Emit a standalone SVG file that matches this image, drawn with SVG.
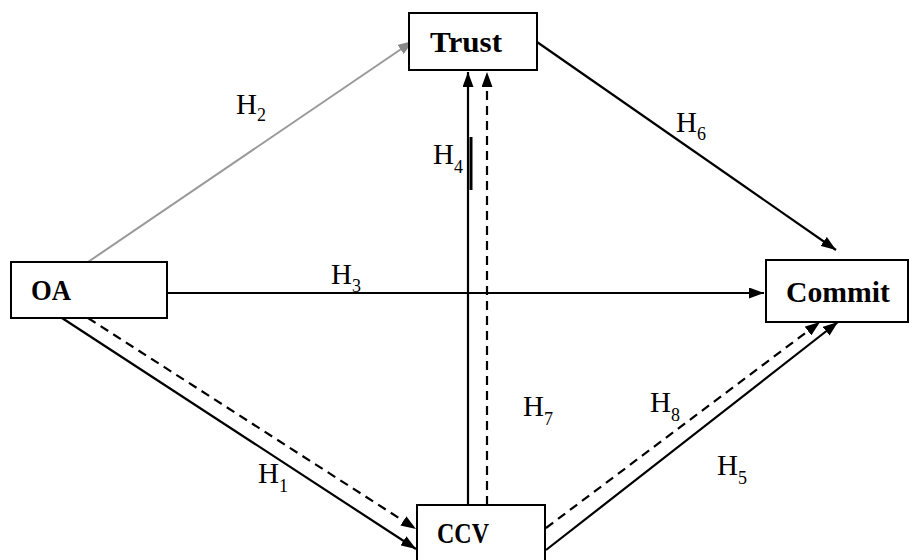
<svg xmlns="http://www.w3.org/2000/svg" width="912" height="560" viewBox="0 0 912 560">
<style>
.box{fill:#fff;stroke:#000;stroke-width:2}
.lbl{font-family:"Liberation Serif",serif;font-weight:bold;font-size:30px;fill:#000}
.h{font-family:"Liberation Serif",serif;font-size:29px;fill:#000}
.sub{font-size:18px}
.c{stroke:#000;stroke-width:2.2;fill:none}
.d{stroke-dasharray:9 6}
</style>
<defs>
<marker id="ah" viewBox="0 0 15 11" refX="15" refY="5.5" markerWidth="15" markerHeight="11" markerUnits="userSpaceOnUse" orient="auto"><path d="M0,0 L15,5.5 L0,11 z" fill="#000"/></marker>
<marker id="ahg" viewBox="0 0 15 11" refX="15" refY="5.5" markerWidth="15" markerHeight="11" markerUnits="userSpaceOnUse" orient="auto"><path d="M0,0 L15,5.5 L0,11 z" fill="#888"/></marker>
</defs>
<g id="connectors">
<line x1="88" y1="262" x2="413" y2="41" stroke="#999" stroke-width="2" marker-end="url(#ahg)"/>
<line class="c" x1="537" y1="42" x2="836" y2="250" marker-end="url(#ah)"/>
<line class="c" x1="167" y1="293" x2="764" y2="293" marker-end="url(#ah)"/>
<line class="c" x1="468" y1="505" x2="468" y2="72" marker-end="url(#ah)"/>
<line x1="471" y1="137" x2="471" y2="190" stroke="#000" stroke-width="3"/>
<line class="c d" x1="487" y1="505" x2="487" y2="72" marker-end="url(#ah)"/>
<line class="c" x1="62" y1="318" x2="416" y2="549" marker-end="url(#ah)"/>
<line class="c d" x1="88" y1="318" x2="416" y2="529" marker-end="url(#ah)"/>
<line class="c" x1="546" y1="550" x2="838" y2="322" marker-end="url(#ah)"/>
<line class="c d" x1="546" y1="528" x2="820" y2="322" marker-end="url(#ah)"/>
</g>
<g id="trust"><rect class="box" x="409" y="13" width="128" height="57"/><text class="lbl" x="430" y="52" textLength="72" lengthAdjust="spacingAndGlyphs">Trust</text></g>
<g id="oa"><rect class="box" x="11" y="262" width="156" height="56"/><text class="lbl" x="31" y="300" textLength="40" lengthAdjust="spacingAndGlyphs">OA</text></g>
<g id="commit"><rect class="box" x="766" y="260" width="142" height="62"/><text class="lbl" x="786" y="302" textLength="104" lengthAdjust="spacingAndGlyphs">Commit</text></g>
<g id="ccv"><rect class="box" x="417" y="505" width="128" height="60"/><text class="lbl" x="437" y="543" textLength="52" lengthAdjust="spacingAndGlyphs">CCV</text></g>
<g id="labels">
<text class="h" x="236" y="114">H<tspan class="sub" dy="7">2</tspan></text>
<text class="h" x="676" y="132">H<tspan class="sub" dy="8">6</tspan></text>
<text class="h" x="331" y="284">H<tspan class="sub" dy="8">3</tspan></text>
<text class="h" x="433" y="164">H<tspan class="sub" dy="9">4</tspan></text>
<text class="h" x="523" y="416">H<tspan class="sub" dy="9">7</tspan></text>
<text class="h" x="650" y="412">H<tspan class="sub" dy="9">8</tspan></text>
<text class="h" x="717" y="475">H<tspan class="sub" dy="9">5</tspan></text>
<text class="h" x="258" y="483">H<tspan class="sub" dy="9">1</tspan></text>
</g>
</svg>
